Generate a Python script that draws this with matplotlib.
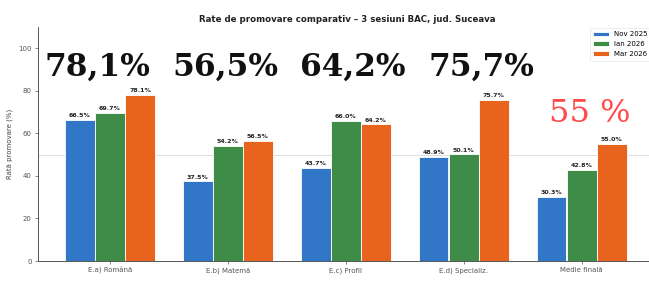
import numpy as np
import matplotlib.pyplot as plt

# Data ==============================================
categorii = ['E.a) Română', 'E.b) Matemă', 'E.c) Profil', 'E.d) Specializ.', 'Medie finală']
sesiuni = ['Nov 2025', 'Ian 2026', 'Mar 2026']
nov_2025 = [66.5, 37.5, 43.7, 48.9, 30.3]
ian_2026 = [69.7, 54.2, 66.0, 50.1, 42.8]
mar_2026 = [78.1, 56.5, 64.2, 75.7, 55.0]
mari_etichete = ['78,1%', '56,5%', '64,2%', '75,7%']
eticheta_medie = '55 %'

culori = ['#3276c8', '#3f8b48', '#e8641e']

# Plot ==============================================
W, H = 649, 282
fig = plt.figure(figsize=(W / 100, H / 100), dpi=100)
ax = fig.add_axes([38 / W, 21 / H, (W - 38) / W, 234 / H])

x = np.arange(len(categorii))
w = 0.25
for i, (vals, nume) in enumerate(zip([nov_2025, ian_2026, mar_2026], sesiuni)):
    bars = ax.bar(x + (i - 1) * 0.255, vals, w, color=culori[i], label=nume,
                  edgecolor='white', linewidth=0.6)
    for b, v in zip(bars, vals):
        ax.text(b.get_x() + b.get_width() / 2, v + 0.8, f'{v:.1f}%',
                ha='center', va='bottom', fontsize=4.5, fontweight='bold', color='#222222')

ax.axhline(50, color='#dddddd', lw=0.7, zorder=0)

ax.set_xlim(-0.61, 4.57)
ax.set_ylim(0, 110)
ax.set_yticks([0, 20, 40, 60, 80, 100])
ax.set_xticks(x)
ax.set_xticklabels(categorii)
ax.tick_params(labelsize=5, colors='#555555', length=2.5, width=0.5, pad=2)
ax.set_ylabel('Rată promovare (%)', fontsize=5, color='#444444', labelpad=4)
for s in ['top', 'right']:
    ax.spines[s].set_visible(False)
for s in ['left', 'bottom']:
    ax.spines[s].set_color('#555555')
    ax.spines[s].set_linewidth(0.7)

fig.text(347 / W, 1 - 19 / H, 'Rate de promovare comparativ – 3 sesiuni BAC, jud. Suceava',
         ha='center', va='center', fontsize=6.2, fontweight='bold', color='#222222')

leg = ax.legend(loc='upper left', bbox_to_anchor=(590 / W, 1 - 28 / H),
                bbox_transform=fig.transFigure, fontsize=5, frameon=True,
                handlelength=2.2, borderpad=0.5, labelspacing=0.55, borderaxespad=0)
leg.get_frame().set_linewidth(0.5)
leg.get_frame().set_edgecolor('#dddddd')

# big overlay labels
poz = [97, 225, 353, 481]
for px, t in zip(poz, mari_etichete):
    fig.text(px / W, 1 - 67 / H, t, ha='center', va='center', fontsize=22.5,
             fontweight='bold', family='DejaVu Serif', color='#111111')
fig.text(590 / W, 1 - 113 / H, eticheta_medie, ha='center', va='center', fontsize=23,
         family='DejaVu Serif', color='#ff4b4b')

plt.savefig('out.png', dpi=100)
